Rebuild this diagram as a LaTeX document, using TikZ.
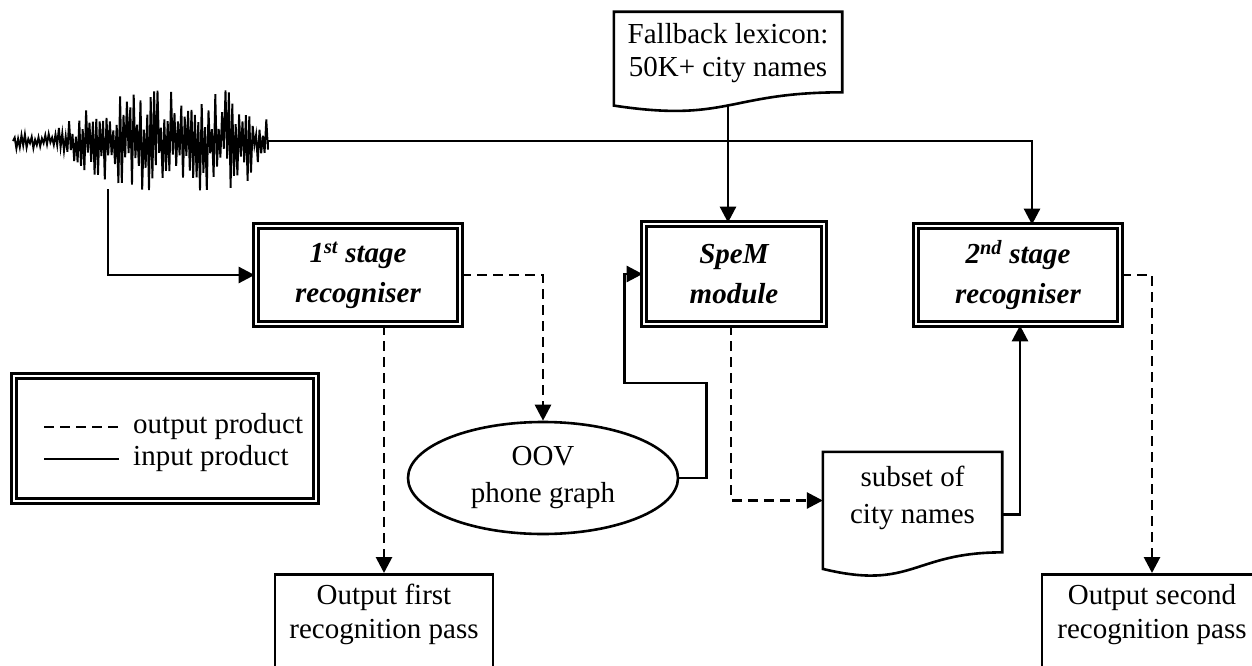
\documentclass[tikz,border=0pt]{standalone}
\usepackage{fontspec}
\setmainfont{Liberation Serif}
\usetikzlibrary{shapes.geometric,arrows.meta,calc}
\begin{document}
\begin{tikzpicture}[x=1pt,y=-1pt,
  font=\fontsize{29}{35}\selectfont,
  stagebox/.style={draw, line width=2.8pt, double, double distance=2.4pt,
    minimum width=204pt, minimum height=98pt, align=center, inner sep=0pt,
    font=\fontsize{29}{40}\selectfont\bfseries\itshape},
  framebox/.style={draw, line width=2.8pt, double, double distance=2.4pt, inner sep=0pt},
  plainbox/.style={draw, line width=2.6pt, align=center, inner sep=0pt},
  docarea/.style={inner sep=0pt},
  doctext/.style={align=center, inner sep=0pt, font=\fontsize{29}{33}\selectfont},
  docline/.style={line width=2.6pt},
  conn/.style={line width=2.8pt, -{Triangle[length=16pt,width=16pt]}},
  outconn/.style={conn, dash pattern=on 10pt off 6pt},
  legline/.style={line width=2.8pt},
  wavestyle/.style={line width=1.9pt, line join=miter}
]
\useasboundingbox (0,0) rectangle (1252,666);
\clip (0,0) rectangle (1252,666);

% speech waveform
\node[docarea, minimum width=255pt, minimum height=96pt] (wave) at (140.5,141) {};
\pgfmathsetseed{42}
\draw[wavestyle] (13,141)
  \foreach \i in {1,...,150}{
    -- ({13+\i*1.7}, {141 + (1-2*mod(\i,2))*(3+48*min(1,max(0.1,(\i/150-0.12)*3.5))*ifthenelse(\i>140,0.45,1))*(0.15+0.85*rnd)})
  } -- (268,141);

% document shapes (flowchart "document" outline)
\newcommand{\docoutline}[1]{%
  \draw[docline] (#1.north west) -- (#1.north east)
    -- ($(#1.north east)!0.802!(#1.south east)$)
    .. controls ($(#1.north)!0.802!(#1.south)$) and ($(#1.north)!1.107!(#1.south)$)
    .. ($(#1.north west)!0.934!(#1.south west)$) -- cycle;}

\node[docarea, minimum width=228pt, minimum height=100pt] (fb) at (728,62) {};
\docoutline{fb}
\node[doctext] (fbtext) at (728,53) {Fallback lexicon:\\50K+ city names};

\node[docarea, minimum width=179pt, minimum height=125pt] (sub) at (912.5,514.5) {};
\docoutline{sub}
\node[doctext, font=\fontsize{29}{37}\selectfont] (subtext) at (912.5,498) {subset of\\city names};

% processing stages
\node[stagebox] (s1) at (358,275) {1\textsuperscript{st} stage\\recogniser};
\node[stagebox, minimum width=180pt, minimum height=100pt] (spem) at (734,274) {SpeM\\module};
\node[stagebox] (s2) at (1018,275) {2\textsuperscript{nd} stage\\recogniser};

% phone graph
\node[ellipse, draw, line width=2.6pt, minimum width=270pt, minimum height=112pt,
  align=center, inner sep=0pt, font=\fontsize{29}{37}\selectfont] (oov) at (543,478) {OOV\\phone graph};

% recognition outputs
\node[plainbox, anchor=north, minimum width=218pt, minimum height=130pt,
  font=\fontsize{29}{34}\selectfont] (out1) at (384,573) {Output first\\recognition pass\\[22pt]};
\node[plainbox, anchor=north, minimum width=220pt, minimum height=130pt,
  font=\fontsize{29}{34}\selectfont] (out2) at (1152,573) {Output second\\recognition pass\\[22pt]};

% legend
\node[framebox, minimum width=302pt, minimum height=125pt] (leg) at (165,438.5) {};
\coordinate (lgA1) at (44,427);
\coordinate (lgA2) at (119,427);
\coordinate (lgB1) at (44,459);
\coordinate (lgB2) at (119,459);
\draw[legline, dash pattern=on 10pt off 6pt] (lgA1) -- (lgA2);
\draw[legline] (lgB1) -- (lgB2);
\node[anchor=west, inner sep=0pt] (lgtA) at (133,427) {output product};
\node[anchor=west, inner sep=0pt] (lgtB) at (133,459) {input product};

% input products
\coordinate (wavedown) at ([xshift=-32.5pt]wave.south);
\draw[conn] (wavedown) |- (s1.west);
\draw[conn] (wave.east) -| ([xshift=14pt]s2.north);
\coordinate (fbbot) at ($(fb.north)!0.93!(fb.south)$);
\draw[conn] (fbbot) -- (fbbot |- spem.north);
\draw[conn] (oov.east) -- ++(27,0) -- ++(0,-95) -- ++(-82,0) |- (spem.west);
\draw[conn] (sub.east) -| ([xshift=2pt]s2.south);

% output products
\draw[outconn] (s1.east) -| (oov.north);
\draw[outconn] (out1.north |- s1.south) -- (out1.north);
\draw[outconn] ([xshift=-3pt]spem.south) |- ([yshift=14pt]sub.west);
\draw[outconn] (s2.east) -| (out2.north);
\end{tikzpicture}
\end{document}
